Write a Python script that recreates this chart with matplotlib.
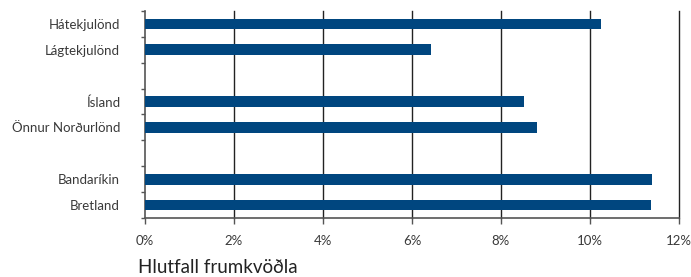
import matplotlib.pyplot as plt
import numpy as np

plt.rcParams["font.family"] = ["Lato", "DejaVu Sans"]

# categories top to bottom, empty strings are spacer rows between groups
categories = ["Hátekjulönd", "Lágtekjulönd", "", "Ísland", "Önnur Norðurlönd", "", "Bandaríkin", "Bretland"]
values = [10.25, 6.43, np.nan, 8.52, 8.81, np.nan, 11.39, 11.37]
xticks = [0, 2, 4, 6, 8, 10, 12]
xtick_labels = ["0%", "2%", "4%", "6%", "8%", "10%", "12%"]

bar_color = "#00467f"
text_color = "#3a3a3a"

fig = plt.figure(figsize=(6.91, 2.77), dpi=100)
ax = fig.add_axes([0.2098, 0.213, 0.7728, 0.7473])

pos = np.arange(len(categories))
ax.barh(pos, np.nan_to_num(values), height=0.42, color=bar_color, zorder=3)

ax.set_xlim(0, 12)
ax.set_ylim(len(categories) - 0.5, -0.5)

# vertical gridlines
for x in xticks[1:]:
    ax.axvline(x, color="#222222", linewidth=1.0, zorder=1, clip_on=False)

# y: boundary tick marks, labels at bar centres
ax.set_yticks(np.arange(-0.5, len(categories), 1.0))
ax.set_yticklabels([])
ax.set_yticks(pos, minor=True)
ax.set_yticklabels(categories, minor=True)
ax.tick_params(axis="y", which="major", length=3, width=1, color="#555555")
ax.tick_params(axis="y", which="minor", length=0, pad=18, labelsize=9.5, labelcolor=text_color)

ax.set_xticks(xticks)
ax.set_xticklabels(xtick_labels)
ax.tick_params(axis="x", length=4, width=1, color="#555555", pad=8, labelsize=9.5, labelcolor=text_color)

for s in ["top", "right"]:
    ax.spines[s].set_visible(False)
for s in ["left", "bottom"]:
    ax.spines[s].set_color("#555555")
    ax.spines[s].set_linewidth(1.2)

fig.text(138 / 691, 1 - 273 / 277, "Hlutfall frumkvöðla", fontsize=13.5,
         color="#222222", ha="left", va="baseline")

fig.savefig("out.png", dpi=100)
